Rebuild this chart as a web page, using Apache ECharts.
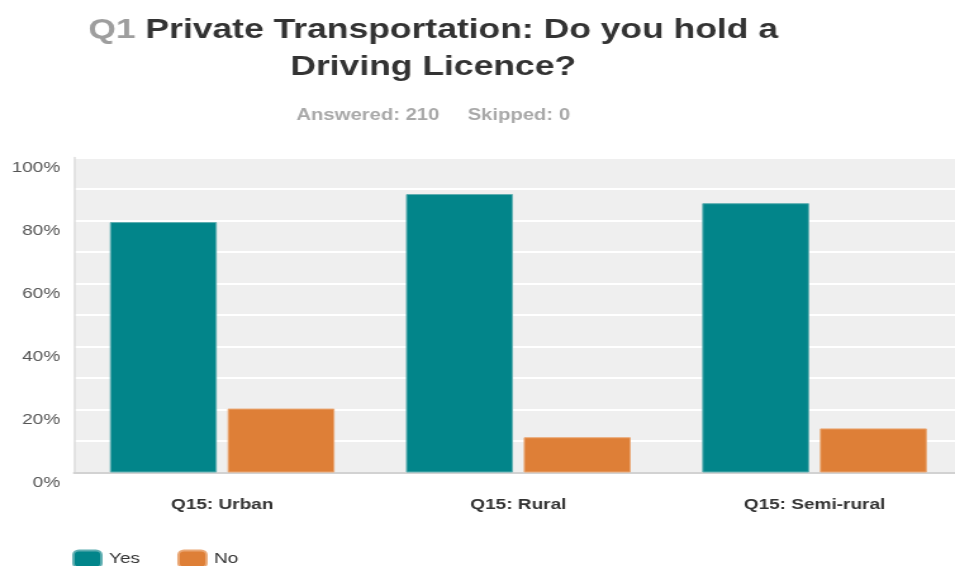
<!DOCTYPE html>
<html>
<head>
<meta charset="utf-8">
<script src="https://cdn.jsdelivr.net/npm/echarts@6/dist/echarts.min.js"></script>
<style>
  html, body { margin: 0; padding: 0; background: #fff; overflow: hidden; width: 955px; height: 566px; }
  /* chart is laid out at 760px and widened by the same factor to fill the page */
  #chart { width: 760px; height: 566px; transform: scaleX(1.26658); transform-origin: 0 0; }
</style>
</head>
<body>
<div id="chart"></div>
<script>
const categories = ['Q15: Urban', 'Q15: Rural', 'Q15: Semi-rural'];
const seriesNames = ['Yes', 'No'];
const yesValues = [79.5, 88.4, 85.5];
const noValues = [20.3, 11.2, 14.0];
const titleLine1 = ['Q1', 'Private Transportation: Do you hold a'];
const titleLine2 = 'Driving Licence?';
const answeredText = 'Answered: 210';
const skippedText = 'Skipped: 0';

const FONT = '"Liberation Sans", Arial, sans-serif';
const chart = echarts.init(document.getElementById('chart'));

chart.setOption({
  animation: false,
  color: ['#02858a', '#de7f37'],
  graphic: [
    {
      type: 'text', x: 342, y: 30,
      style: {
        text: '{q|' + titleLine1[0] + '} {t|' + titleLine1[1] + '}',
        rich: {
          q: { fill: '#9e9e9e', fontSize: 28, fontWeight: 'bold', fontFamily: FONT },
          t: { fill: '#333333', fontSize: 28, fontWeight: 'bold', fontFamily: FONT }
        },
        fill: '#333333', fontSize: 28, fontWeight: 'bold', fontFamily: FONT,
        textAlign: 'center', textVerticalAlign: 'middle'
      }
    },
    {
      type: 'text', x: 342, y: 67.5,
      style: {
        text: titleLine2, fill: '#333333', fontSize: 28, fontWeight: 'bold', fontFamily: FONT,
        textAlign: 'center', textVerticalAlign: 'middle'
      }
    },
    {
      type: 'text', x: 342, y: 116,
      style: {
        text: answeredText + '     ' + skippedText, fill: '#a8a8a8', fontSize: 16, fontWeight: 'bold', fontFamily: FONT,
        textAlign: 'center', textVerticalAlign: 'middle'
      }
    }
  ],
  legend: {
    data: seriesNames,
    left: 57, top: 549.5, padding: 0,
    itemWidth: 22, itemHeight: 17, itemGap: 29.5,
    icon: 'roundRect',
    textStyle: { color: '#333', fontSize: 15, fontFamily: FONT, padding: [0, 0, 0, 1] }
  },
  grid: {
    left: 58.5, right: 0, top: 157.5, bottom: 93.5,
    show: true, backgroundColor: '#efefef', borderWidth: 0
  },
  xAxis: {
    type: 'category',
    data: categories,
    axisLine: { show: true, lineStyle: { color: '#d2d2d2', width: 2 } },
    axisTick: { show: false },
    axisLabel: { color: '#333', fontSize: 15, fontWeight: 'bold', fontFamily: FONT, margin: 25 }
  },
  yAxis: {
    type: 'value',
    min: 0, max: 100, interval: 10,
    axisLine: { show: true, lineStyle: { color: '#dedede', width: 1.5 } },
    axisTick: { show: false },
    splitLine: { show: true, lineStyle: { color: '#ffffff', width: 2 } },
    axisLabel: {
      color: '#555', fontSize: 15, fontFamily: FONT, margin: 11,
      verticalAlign: 'top', lineHeight: 21,
      formatter: v => (v % 20 === 0 ? v + '%' : '')
    }
  },
  series: [
    {
      name: seriesNames[0], type: 'bar', data: yesValues,
      barWidth: 84.5, barGap: '10%',
      itemStyle: { borderColor: '#5eaeb1', borderWidth: 1 }
    },
    {
      name: seriesNames[1], type: 'bar', data: noValues,
      barWidth: 84.5, barGap: '10%',
      itemStyle: { borderColor: '#eaa876', borderWidth: 1 }
    }
  ]
});
</script>
</body>
</html>
